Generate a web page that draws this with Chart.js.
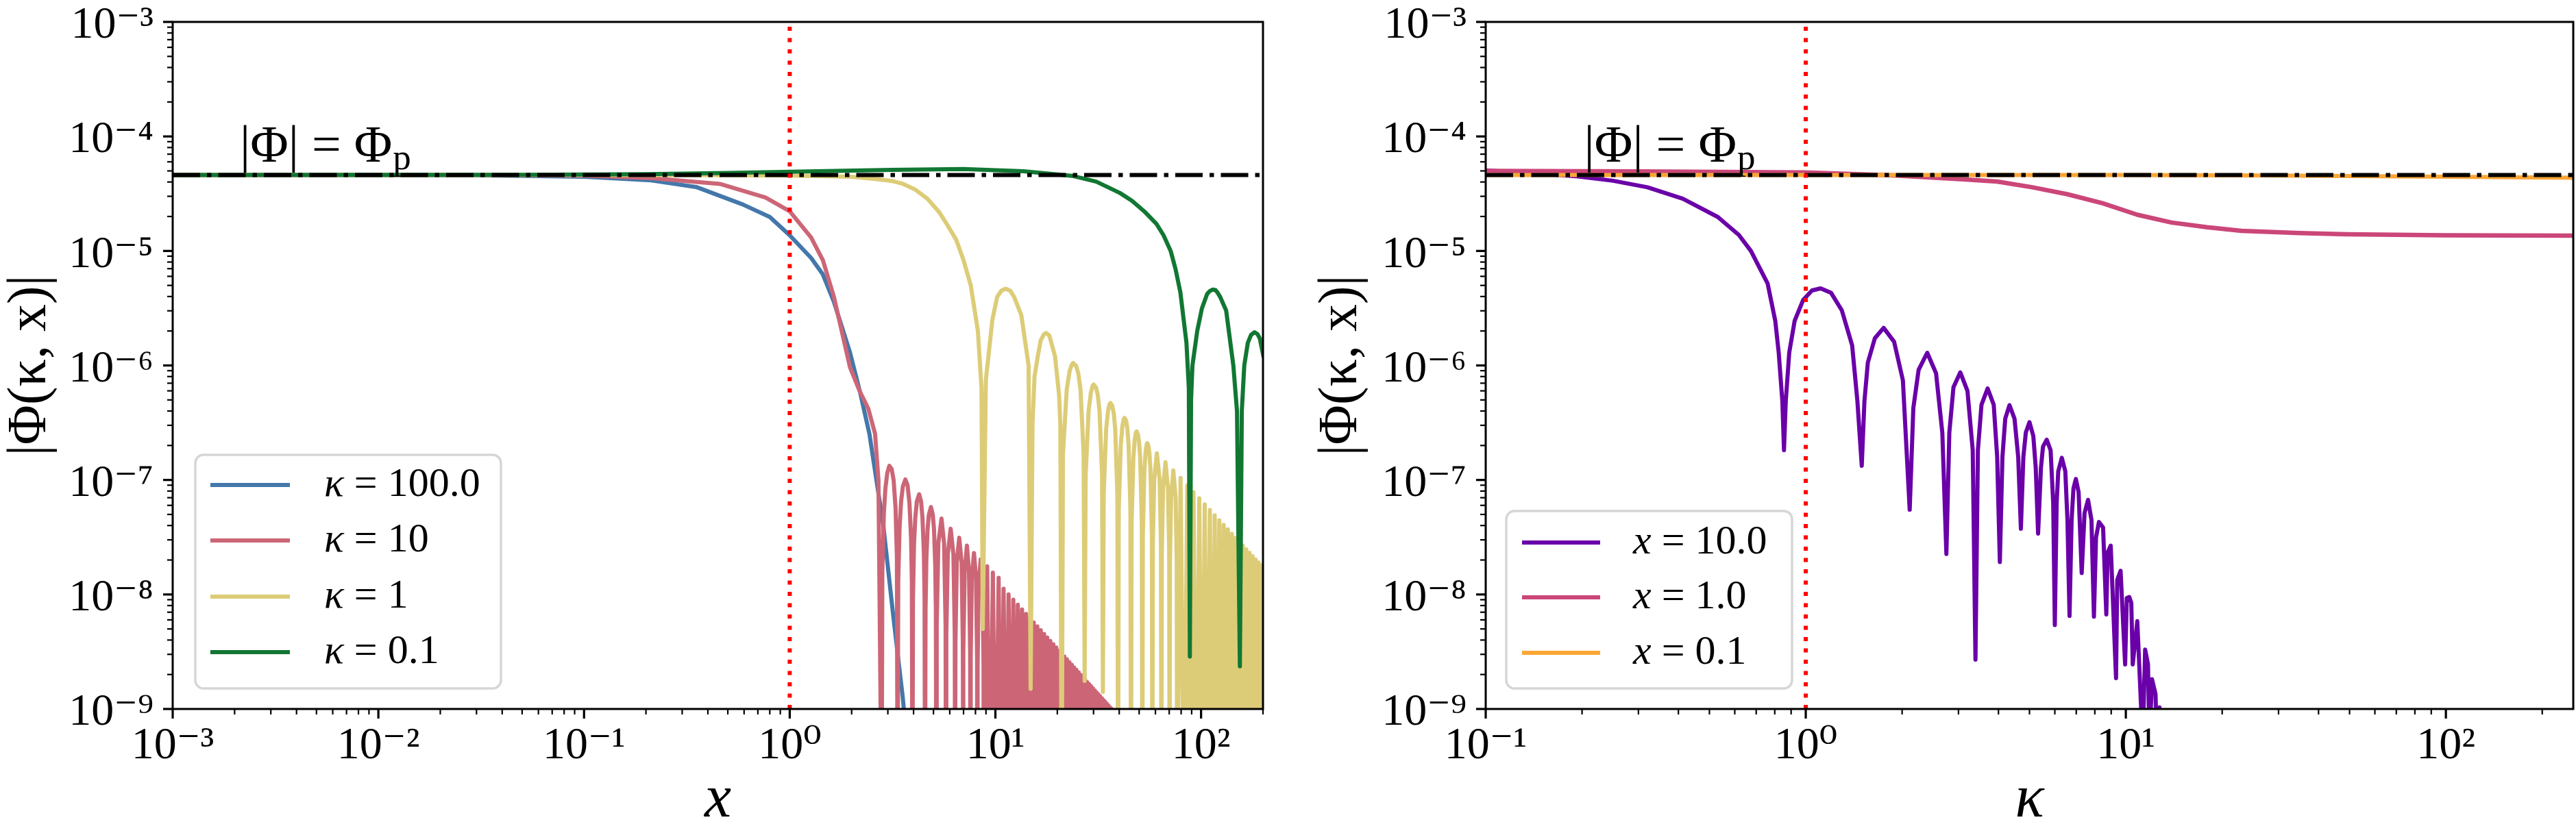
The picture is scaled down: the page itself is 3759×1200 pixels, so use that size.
<!DOCTYPE html>
<html><head><meta charset="utf-8">
<script src="https://cdn.jsdelivr.net/npm/chart.js@4.4.1/dist/chart.umd.min.js"></script>
<style>
html,body{margin:0;padding:0;background:#fff;}
#wrap{position:relative;width:3759px;height:1200px;overflow:hidden;background:#fff;}
#c1{position:absolute;left:0;top:0;width:1870px;height:1200px;}
#c2{position:absolute;left:1870px;top:0;width:1889px;height:1200px;}
</style></head><body>
<div id="wrap"><canvas id="c1" width="1870" height="1200"></canvas><canvas id="c2" width="1889" height="1200"></canvas></div>
<script>
// ---------------- DATA ----------------
const PHI_P = 4.6e-5;
const yTickValues = [1e-9,1e-8,1e-7,1e-6,1e-5,1e-4,1e-3];
const yTickLabels = ['10⁻⁹','10⁻⁸','10⁻⁷','10⁻⁶','10⁻⁵','10⁻⁴','10⁻³'];
const leftXTickValues = [1e-3,1e-2,1e-1,1,10,100];
const leftXTickLabels = ['10⁻³','10⁻²','10⁻¹','10⁰','10¹','10²'];
const rightXTickValues = [0.1,1,10,100];
const rightXTickLabels = ['10⁻¹','10⁰','10¹','10²'];
const leftLabels = ['κ = 100.0','κ = 10','κ = 1','κ = 0.1'];
const rightLabels = ['x = 10.0','x = 1.0','x = 0.1'];
const annotationText = ['|Φ| = Φ','p'];

// left panel: |Phi| vs x for fixed kappa
const kappa100 = [[0.001,4.6e-5],[0.01,4.6e-5],[0.03,4.57e-5],[0.05,4.52e-5],[0.1,4.45e-5],[0.212,4.13e-5],[0.354,3.6e-5],[0.59,2.55e-5],[0.8,1.98e-5],[1.0,1.37e-5],[1.27,8.7e-6],[1.445,6.29e-6],[1.64,3.6e-6],[1.965,1.29e-6],[2.2,5.8e-7],[2.44,2.53e-7],[2.85,4.03e-8],[3.19,6.4e-9],[3.54,1.29e-9],[3.9,2e-10]];

const kappa10 = [[0.001,4.6e-5],[0.03,4.6e-5],[0.1,4.55e-5],[0.212,4.33e-5],[0.457,3.85e-5],[0.763,2.93e-5],[1.0,2.22e-5],[1.27,1.31e-5],[1.45,8.3e-6],[1.64,3.97e-6],[1.965,9.6e-7],[2.18,6.05e-7],[2.41,4.19e-7],[2.6,2.53e-7],[2.7,1.0e-7],[2.8,1e-10],
[2.82,1.6e-8],[2.87,5.2e-8],[2.92,8.5e-8],[2.98,1.15e-7],[3.05,1.33e-7],[3.13,1.25e-7],[3.2,1.0e-7],[3.27,5.7e-8],[3.32,2.1e-8],[3.345,1e-10],
[3.37,1.3e-8],[3.42,3.8e-8],[3.48,6.5e-8],[3.55,8.8e-8],[3.65,1.01e-7],[3.74,9.0e-8],[3.82,6.3e-8],[3.89,3.1e-8],[3.925,1.3e-8],[3.95,1e-10],
[3.975,9.4e-9],[4.02,2.7e-8],[4.08,4.7e-8],[4.15,6.5e-8],[4.26,7.5e-8],[4.35,6.5e-8],[4.42,4.7e-8],[4.49,2.3e-8],[4.525,9.4e-9],[4.55,1e-10],
[4.575,7.3e-9],[4.62,2.1e-8],[4.68,3.7e-8],[4.75,5.0e-8],[4.86,5.8e-8],[4.96,5.0e-8],[5.03,3.7e-8],[5.1,1.8e-8],[5.135,7.3e-9],[5.16,1e-10],
[5.185,5.5e-9],[5.28,2.8e-8],[5.47,4.6e-8],[5.63,2.8e-8],[5.725,5.5e-9],[5.75,1e-10],
[5.775,4.5e-9],[5.87,2.25e-8],[6.06,3.75e-8],[6.25,2.25e-8],[6.345,4.5e-9],[6.37,1e-10],
[6.395,3.8e-9],[6.49,1.9e-8],[6.67,3.13e-8],[6.85,1.9e-8],[6.945,3.8e-9],[6.97,1e-10],
[6.995,3.2e-9],[7.09,1.6e-8],[7.27,2.67e-8],[7.44,1.6e-8],[7.535,3.2e-9],[7.56,1e-10],
[7.585,2.8e-9],[7.68,1.4e-8],[7.87,2.3e-8],[8.05,1.4e-8],[8.145,2.8e-9],[8.17,1e-10],
[8.195,2.4e-9],[8.29,1.2e-8],[8.48,2.02e-8],[8.66,1.2e-8],[8.755,2.4e-9],[8.78,1e-10],
[9.12,1.76e-8],[9.40,1e-10],[9.72,1.55e-8],[10.02,1e-10],[10.37,1.4e-8],[10.65,1e-10],[10.96,1.12e-8],[11.28,1e-10],[11.59,1.0e-8],[11.91,1e-10],[12.22,9.0e-9],[12.53,1e-10],[12.85,8.14e-9],[13.16,1e-10],[13.48,7.4e-9],[13.79,1e-10],[14.10,6.76e-9],[14.42,1e-10],[14.73,6.19e-9],[15.05,1e-10],[15.36,5.7e-9],[15.68,1e-10],[15.99,5.26e-9],[16.31,1e-10],[16.62,4.87e-9],[16.93,1e-10],[17.25,4.52e-9],[17.56,1e-10],[17.87,4.21e-9],[18.19,1e-10],[18.50,3.93e-9],[18.82,1e-10],[19.13,3.67e-9],[19.45,1e-10],[19.76,3.44e-9],[20.08,1e-10],[20.39,3.23e-9],[20.70,1e-10],[21.02,3.04e-9],[21.33,1e-10],[21.65,2.87e-9],[21.96,1e-10],[22.27,2.71e-9],[22.59,1e-10],[22.90,2.56e-9],[23.22,1e-10],[23.53,2.43e-9],[23.85,1e-10],[24.16,2.30e-9],[24.47,1e-10],[24.79,2.19e-9],[25.10,1e-10],[25.42,2.08e-9],[25.73,1e-10],[26.04,1.98e-9],[26.36,1e-10],[26.67,1.89e-9],[26.99,1e-10],[27.30,1.80e-9],[27.62,1e-10],[27.93,1.72e-9],[28.25,1e-10],[28.56,1.65e-9],[28.87,1e-10],[29.19,1.58e-9],[29.50,1e-10],[29.82,1.51e-9],[30.13,1e-10],[30.44,1.45e-9],[30.76,1e-10],[31.07,1.39e-9],[31.39,1e-10],[31.70,1.34e-9],[32.02,1e-10],[32.33,1.29e-9],[32.64,1e-10],[32.96,1.24e-9],[33.27,1e-10],[33.59,1.19e-9],[33.90,1e-10],[34.21,1.15e-9],[34.53,1e-10],[34.84,1.11e-9],[35.16,1e-10],[35.47,1.07e-9],[35.79,1e-10],[36.10,1.03e-9],[36.42,1e-10],[36.73,1.0e-9],[37.04,1e-10]];

const kappa1 = [[0.001,4.6e-5],[0.01,4.6e-5],[0.1,4.6e-5],[0.5,4.58e-5],[1,4.55e-5],[2,4.45e-5],[2.6,4.25e-5],[3.11,4.1e-5],[3.56,3.85e-5],[4.07,3.44e-5],[4.67,2.86e-5],[5.34,2.17e-5],[5.79,1.73e-5],[6.45,1.25e-5],[7.0,8.3e-6],[7.59,5.0e-6],[8.22,2.0e-6],[8.56,6.3e-7],[8.68,5e-9],
[8.99,7.5e-7],[9.67,2.51e-6],[10.2,3.97e-6],[10.7,4.5e-6],[11.22,4.67e-6],[11.8,4.5e-6],[12.33,3.97e-6],[13.37,2.75e-6],[14.5,1.0e-6],[14.84,1.5e-9],
[15.15,3.07e-7],[15.5,8e-7],[16.07,1.2e-6],[16.6,1.65e-6],[17.2,1.87e-6],[17.65,1.92e-6],[18.3,1.82e-6],[19.5,1.2e-6],[20.4,5.5e-7],[20.69,3.07e-7],[21.0,1e-10],
[21.31,1.68e-7],[22.23,6.2e-7],[22.97,9.0e-7],[23.6,1.03e-6],[23.88,1.05e-6],[24.7,9.9e-7],[25.3,8.5e-7],[25.93,6.2e-7],[26.85,1.68e-7],[27.16,1.76e-9],
[27.47,1.09e-7],[28.39,4.01e-7],[29.13,5.8e-7],[29.75,6.7e-7],[30.08,6.8e-7],[30.85,6.4e-7],[31.47,5.5e-7],[32.09,4.01e-7],[33.01,1.09e-7],[33.32,1.41e-9],
[33.63,7.5e-8],[34.55,2.77e-7],[35.29,4.0e-7],[35.9,4.6e-7],[36.27,4.7e-7],[37.0,4.45e-7],[37.63,3.8e-7],[38.25,2.77e-7],[39.17,7.5e-8],[39.48,1e-10],
[39.79,5.57e-8],[40.71,2.05e-7],[41.45,2.96e-7],[42.07,3.4e-7],[42.45,3.48e-7],[43.2,3.3e-7],[43.8,2.82e-7],[44.41,2.05e-7],[45.33,5.57e-8],[45.64,1e-10],
[45.95,4.24e-8],[46.87,1.56e-7],[47.6,2.25e-7],[48.2,2.6e-7],[48.62,2.65e-7],[49.35,2.5e-7],[49.95,2.15e-7],[50.57,1.56e-7],[51.49,4.24e-8],[51.8,1e-10],
[52.11,3.36e-8],[53.03,1.24e-7],[53.77,1.78e-7],[54.4,2.05e-7],[54.79,2.1e-7],[55.5,1.98e-7],[56.1,1.7e-7],[56.73,1.24e-7],[57.65,3.36e-8],[57.96,1e-10],
[58.27,2.74e-8],[59.19,1.01e-7],[60.96,1.71e-7],[62.89,1.01e-7],[63.81,2.74e-8],[64.12,1e-10],
[64.43,2.29e-8],[65.35,8.4e-8],[67.13,1.43e-7],[69.05,8.4e-8],[69.97,2.29e-8],[70.28,1e-10],
[70.59,1.94e-8],[71.51,7.1e-8],[73.29,1.21e-7],[75.21,7.1e-8],[76.13,1.94e-8],[76.44,1e-10],
[79.52,1.04e-7],[82.6,1e-10],[85.68,8.95e-8],[88.76,1e-10],[91.84,7.83e-8],[94.92,1e-10],[98.0,6.9e-8],[101.08,1e-10],[104.16,6.12e-8],[107.24,1e-10],[110.32,5.47e-8],[113.4,1e-10],[116.48,4.92e-8],[119.56,1e-10],[122.64,4.45e-8],[125.72,1e-10],[128.8,4.05e-8],[131.88,1e-10],[134.96,3.7e-8],[138.04,1e-10],[141.12,3.39e-8],[144.2,1e-10],[147.28,3.12e-8],[150.36,1e-10],[153.44,2.88e-8],[156.52,1e-10],[159.6,2.67e-8],[162.68,1e-10],[165.76,2.48e-8],[168.84,1e-10],[171.92,2.31e-8],[175.0,1e-10],[178.08,2.16e-8],[181.16,1e-10],[184.24,2.02e-8],[187.32,1e-10],[190.4,1.9e-8],[193.48,1e-10],[196.56,1.79e-8],[199.64,1e-10],[202.7,1.7e-8]];

const kappa01 = [[0.001,4.6e-5],[0.05,4.62e-5],[0.2,4.68e-5],[0.5,4.8e-5],[1,4.92e-5],[3.1,5.1e-5],[7.0,5.19e-5],[13.7,4.97e-5],[23.6,4.53e-5],[30.9,4.03e-5],[35.3,3.6e-5],[40.4,3.2e-5],[46.2,2.74e-5],[52.9,2.22e-5],[60.6,1.73e-5],[65.7,1.37e-5],[71.2,9.96e-6],[75.2,6.9e-6],[79.3,4.36e-6],[84.9,1.58e-6],[87.2,6.3e-7],[88.2,2.87e-9],[89.4,5e-7],[90.8,1.0e-6],[95.8,2.0e-6],[101,3.16e-6],[107,4.2e-6],[110,4.45e-6],[114,4.6e-6],[117.5,4.55e-6],[120,4.35e-6],[123.8,3.97e-6],[132.4,3.02e-6],[143.5,1.0e-6],[149.5,4e-7],[154.4,2.36e-9],[157.8,4e-7],[162.2,1.0e-6],[168.8,1.58e-6],[175,1.85e-6],[182,1.95e-6],[188,1.88e-6],[193,1.72e-6],[201,1.2e-6]];

// right panel: |Phi| vs kappa for fixed x
const x10 = [[0.1,5.05e-5],[0.15,4.72e-5],[0.19,4.5e-5],[0.25,4.1e-5],[0.32,3.6e-5],[0.413,2.86e-5],[0.531,1.98e-5],[0.618,1.38e-5],[0.674,1.0e-5],[0.76,5.2e-6],[0.803,2.45e-6],[0.823,1.3e-6],[0.845,4.87e-7],[0.855,1.82e-7],[0.866,4.87e-7],[0.888,1.3e-6],[0.923,2.45e-6],[0.982,3.74e-6],[1.046,4.52e-6],[1.113,4.71e-6],[1.2,4.3e-6],[1.296,3.03e-6],[1.396,1.5e-6],[1.45,4.87e-7],[1.496,1.33e-7],[1.525,4.87e-7],[1.563,1.06e-6],[1.644,1.73e-6],[1.751,2.13e-6],[1.888,1.61e-6],[2.011,7.43e-7],[2.112,5.5e-8],[2.168,4.24e-7],[2.252,9.16e-7],[2.396,1.29e-6],[2.553,8.55e-7],[2.671,2.59e-7],[2.75,2.26e-8],[2.809,2.59e-7],[2.894,6.46e-7],[3.04,8.7e-7],[3.2,6.0e-7],[3.324,1.82e-7],[3.39,2.7e-9],[3.45,1.82e-7],[3.54,4.54e-7],[3.70,6.3e-7],[3.866,4.54e-7],[3.963,1.59e-7],[4.04,1.92e-8],[4.116,1.59e-7],[4.2,3.43e-7],[4.33,4.5e-7],[4.49,3.43e-7],[4.61,1.59e-7],[4.70,3.75e-8],[4.785,1.59e-7],[4.87,2.59e-7],[5.0,3.2e-7],[5.14,2.42e-7],[5.23,1.28e-7],[5.32,3.4e-8],[5.43,1.28e-7],[5.51,1.95e-7],[5.66,2.25e-7],[5.82,1.82e-7],[5.93,6.34e-8],[6.0,5.4e-9],[6.08,6.34e-8],[6.15,1.19e-7],[6.31,1.56e-7],[6.47,1.19e-7],[6.57,4.47e-8],[6.67,6.5e-9],[6.77,4.47e-8],[6.86,8.4e-8],[6.98,1.02e-7],[7.12,7.83e-8],[7.28,1.54e-8],[7.43,5.14e-8],[7.62,6.7e-8],[7.81,4.47e-8],[7.95,6.4e-9],[8.07,3.14e-8],[8.24,4.3e-8],[8.49,3.85e-8],[8.69,6.7e-9],[8.77,2.32e-8],[8.97,2.67e-8],[9.32,1.86e-9],[9.40,1.34e-8],[9.63,1.61e-8],[9.95,2.45e-9],[10.07,9.3e-9],[10.25,9.5e-9],[10.4,8.45e-9],[10.51,2.45e-9],[10.86,5.85e-9],[11.29,5e-10],[11.49,3.3e-9],[11.73,2.45e-9],[11.85,5e-10],[12.07,1.82e-9],[12.38,1.35e-9],[12.5,5e-10],[12.74,1.03e-9],[13.0,2e-10]];

const x1 = [[0.1,5.0e-5],[0.3,4.95e-5],[1.0,4.85e-5],[1.87,4.57e-5],[3.09,4.23e-5],[3.96,4.04e-5],[5.1,3.6e-5],[6.56,3.13e-5],[8.45,2.61e-5],[10.86,2.07e-5],[13.9,1.77e-5],[17.96,1.61e-5],[23,1.5e-5],[35,1.43e-5],[49,1.40e-5],[100,1.37e-5],[250,1.36e-5]];

const x01 = [[0.1,4.6e-5],[1,4.6e-5],[10,4.6e-5],[30,4.55e-5],[100,4.45e-5],[250,4.35e-5]];

// ---------------- RENDERING ----------------
const FONT = '"Liberation Serif", "DejaVu Serif", serif';
const toXY = arr => arr.map(p => ({x: p[0], y: p[1]}));

function curve(label, arr, color, width, order) {
  return {label, data: toXY(arr), borderColor: color, backgroundColor: color, borderWidth: width,
    pointRadius: 0, pointHoverRadius: 0, tension: 0, fill: false, order,
    borderJoinStyle: 'round', borderCapStyle: 'round', clip: 0};
}
function refLines(xmin, xmax) {
  return [
    {label: 'Φp', data: toXY([[xmin, PHI_P], [xmax, PHI_P]]), borderColor: '#000', borderWidth: 6,
     borderDash: [40, 10, 6.5, 10], borderCapStyle: 'butt', pointRadius: 0, order: 1, clip: 0},
    {label: 'one', data: toXY([[1, 1e-9], [1, 1e-3]]), borderColor: '#ff0000', borderWidth: 6,
     borderDash: [6, 10.5], borderCapStyle: 'butt', pointRadius: 0, order: 0, clip: 0}
  ];
}

const decor = {
  id: 'mplDecor',
  afterDraw(chart, args, o) {
    const ctx = chart.ctx, a = chart.chartArea;
    const xs = chart.scales.x, ys = chart.scales.y;
    ctx.save();
    // ticks (outward, major + minor)
    ctx.strokeStyle = '#000';
    const drawTicks = (scale, horizontal) => {
      const lo = Math.floor(Math.log10(scale.min)), hi = Math.ceil(Math.log10(scale.max));
      for (let e = lo; e <= hi; e++) for (let m = 1; m <= 9; m++) {
        const v = Number(m + 'e' + e);
        if (v < scale.min * 0.9999 || v > scale.max * 1.0001) continue;
        const p = scale.getPixelForValue(v);
        const major = m === 1;
        const len = major ? 14 : 8;
        ctx.lineWidth = major ? 3.2 : 2.2;
        ctx.beginPath();
        if (horizontal) { ctx.moveTo(p, a.bottom); ctx.lineTo(p, a.bottom + len); }
        else { ctx.moveTo(a.left, p); ctx.lineTo(a.left - len, p); }
        ctx.stroke();
      }
    };
    drawTicks(xs, true); drawTicks(ys, false);
    ctx.lineWidth = 3;
    ctx.strokeRect(a.left, a.top, a.right - a.left, a.bottom - a.top);

    // annotation |Phi| = Phi_p
    const ax = xs.getPixelForValue(o.annotX), ay = ys.getPixelForValue(o.annotY);
    ctx.fillStyle = '#000';
    ctx.textBaseline = 'alphabetic'; ctx.textAlign = 'left';
    ctx.font = '76px ' + FONT;
    ctx.fillText(annotationText[0], ax, ay);
    const w = ctx.measureText(annotationText[0]).width;
    ctx.font = '53px ' + FONT;
    ctx.fillText(annotationText[1], ax + w + 1, ay + 11);

    // legend
    const L = o.legend;
    const [bx, by, bw, bh] = L.box;
    ctx.beginPath();
    ctx.roundRect(bx, by, bw, bh, 12);
    ctx.fillStyle = 'rgba(255,255,255,0.8)'; ctx.fill();
    ctx.lineWidth = 3.5; ctx.strokeStyle = '#d6d6d6'; ctx.stroke();
    chart.data.datasets.slice(0, L.rows.length).forEach((ds, i) => {
      const y = L.rows[i];
      ctx.beginPath(); ctx.lineWidth = 6; ctx.strokeStyle = ds.borderColor; ctx.lineCap = 'butt';
      ctx.moveTo(L.sw[0], y); ctx.lineTo(L.sw[1], y); ctx.stroke();
      const parts = ds.label.split(' = ');
      ctx.fillStyle = '#000'; ctx.textBaseline = 'middle';
      ctx.font = 'italic 60px ' + FONT;
      ctx.fillText(parts[0], L.textX, y);
      const tx = L.textX + ctx.measureText(parts[0]).width;
      ctx.font = '60px ' + FONT;
      ctx.fillText(' = ' + parts[1], tx, y);
    });
    ctx.restore();
  }
};

function zeroPad(s) { s.paddingTop = 0; s.paddingBottom = 0; s.paddingLeft = 0; s.paddingRight = 0; }

function makeChart(id, datasets, xmin, xmax, xTickValues, xTickLabels, xTitle, yAxisWidth, rightPad, yTitlePad, plugOpts) {
  return new Chart(document.getElementById(id), {
    type: 'line',
    data: {datasets},
    options: {
      responsive: false, animation: false, devicePixelRatio: 1,
      layout: {padding: {top: 32, right: rightPad, left: 0, bottom: 0}},
      plugins: {legend: {display: false}, tooltip: {enabled: false}, mplDecor: plugOpts},
      scales: {
        x: {type: 'logarithmic', min: xmin, max: xmax, bounds: 'data',
            grid: {display: false, drawTicks: false, tickLength: 0}, border: {display: false},
            afterBuildTicks: s => { s.ticks = xTickValues.map(v => ({value: v, major: true})); },
            afterFit: s => { s.height = 165; zeroPad(s); },
            ticks: {autoSkip: false, maxRotation: 0, minRotation: 0, padding: 15, color: '#000',
                    font: {family: FONT, size: 66, lineHeight: 1.2},
                    callback: (v, i) => xTickLabels[i]},
            title: {display: true, text: xTitle, color: '#000', padding: 0,
                    font: {family: FONT, size: 88, style: 'italic', lineHeight: 0.7}}},
        y: {type: 'logarithmic', min: 1e-9, max: 1e-3, bounds: 'data',
            grid: {display: false, drawTicks: false, tickLength: 0}, border: {display: false},
            afterBuildTicks: s => { s.ticks = yTickValues.map(v => ({value: v, major: true})); },
            afterFit: s => { s.width = yAxisWidth; zeroPad(s); },
            ticks: {autoSkip: false, padding: 28, color: '#000', labelOffset: 6,
                    font: {family: FONT, size: 66, lineHeight: 1.2},
                    callback: (v, i) => yTickLabels[i]},
            title: {display: true, text: '|Φ(κ, x)|', color: '#000', padding: yTitlePad,
                    font: {family: FONT, size: 80, lineHeight: 1.0}}}
      }
    },
    plugins: [decor]
  });
}

function build() {
  const leftSets = [
    curve(leftLabels[0], kappa100, '#4477AA', 6, 5),
    curve(leftLabels[1], kappa10, '#CC6677', 6, 4),
    curve(leftLabels[2], kappa1, '#DDCC77', 6, 3),
    curve(leftLabels[3], kappa01, '#117733', 6, 2),
    ...refLines(1e-3, 200)
  ];
  makeChart('c1', leftSets, 1e-3, 200, leftXTickValues, leftXTickLabels, 'x', 252, 27, 5,
    {annotX: 0.00212, annotY: 6.0e-5,
     legend: {box: [285, 664, 446, 341], rows: [708, 789, 871, 952], sw: [307, 423], textX: 473}});

  const rightSets = [
    curve(rightLabels[0], x10, '#6A00A8', 6, 4),
    curve(rightLabels[1], x1, '#CB4679', 6.5, 3),
    curve(rightLabels[2], x01, '#FCA636', 6, 2),
    ...refLines(0.1, 250)
  ];
  makeChart('c2', rightSets, 0.1, 250, rightXTickValues, rightXTickLabels, 'κ', 298, 4, 48,
    {annotX: 0.203, annotY: 6.0e-5,
     legend: {box: [328, 746, 417, 259], rows: [792, 872, 953], sw: [351, 465], textX: 513}});
}

const fontReady = (document.fonts && document.fonts.load)
  ? Promise.all([document.fonts.load('66px "Liberation Serif"'), document.fonts.load('italic 66px "Liberation Serif"')]).catch(() => {})
  : Promise.resolve();
Promise.race([fontReady, new Promise(r => setTimeout(r, 800))]).then(build);
</script>
</body></html>
